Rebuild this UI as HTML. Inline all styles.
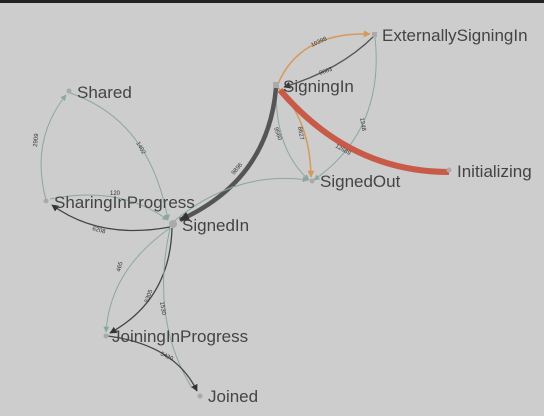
<!DOCTYPE html>
<html><head><meta charset="utf-8"><style>
html,body{margin:0;padding:0;background:#cdcdcd;}
svg{display:block;}
text{font-family:"Liberation Sans",sans-serif;}
</style></head><body>
<svg width="544" height="416" viewBox="0 0 544 416" xmlns="http://www.w3.org/2000/svg">
<defs>
<marker id="ad" viewBox="0 0 10 10" refX="9" refY="5" markerWidth="7" markerHeight="7" markerUnits="userSpaceOnUse" orient="auto"><path d="M0,0L10,5L0,10z" fill="#333"/></marker>
<marker id="adb" viewBox="0 0 10 10" refX="9" refY="5" markerWidth="10" markerHeight="10" markerUnits="userSpaceOnUse" orient="auto"><path d="M0,0L10,5L0,10z" fill="#333"/></marker>
<marker id="at" viewBox="0 0 10 10" refX="9" refY="5" markerWidth="6" markerHeight="6" markerUnits="userSpaceOnUse" orient="auto"><path d="M0,0L10,5L0,10z" fill="#8aa8a0"/></marker>
<marker id="ao" viewBox="0 0 10 10" refX="9" refY="5" markerWidth="7" markerHeight="7" markerUnits="userSpaceOnUse" orient="auto"><path d="M0,0L10,5L0,10z" fill="#d49a5a"/></marker>
</defs>
<rect width="544" height="416" fill="#cdcdcd"/>
<rect width="544" height="3" fill="#222"/>
<g fill="none">
<path d="M278,84 Q300,32 370,34" stroke="#d49a5a" stroke-width="1.5" marker-end="url(#ao)"/>
<path d="M374,36 Q340,70 284,87" stroke="#555" stroke-width="1.3" marker-end="url(#ad)"/>
<path d="M375,37 Q385,130 314,180" stroke="#8aa8a0" stroke-width="1" marker-end="url(#at)"/>
<path d="M278,88 Q310,120 311,177" stroke="#d49a5a" stroke-width="1.5" marker-end="url(#ao)"/>
<path d="M276,88 Q275,150 309,180" stroke="#8aa8a0" stroke-width="1" marker-end="url(#at)"/>
<path d="M449,172 Q350,172 280,90" stroke="#c85a48" stroke-width="6"/>
<path d="M276,88 Q268,180 180,220" stroke="#555" stroke-width="4.5" marker-end="url(#adb)"/>
<path d="M173,222 Q235,170 308,180" stroke="#8aa8a0" stroke-width="1" marker-end="url(#at)"/>
<path d="M46,200 Q30,140 66,95" stroke="#8aa8a0" stroke-width="1" marker-end="url(#at)"/>
<path d="M70,93 Q150,120 168,220" stroke="#8aa8a0" stroke-width="1" marker-end="url(#at)"/>
<path d="M50,199 Q120,185 168,220" stroke="#8aa8a0" stroke-width="1" marker-end="url(#at)"/>
<path d="M170,227 Q100,240 52,205" stroke="#444" stroke-width="1.3" marker-end="url(#ad)"/>
<path d="M170,228 Q110,270 106,332" stroke="#8aa8a0" stroke-width="1" marker-end="url(#at)"/>
<path d="M172,228 Q170,300 110,333" stroke="#444" stroke-width="1.3" marker-end="url(#ad)"/>
<path d="M170,228 Q150,320 192,388" stroke="#8aa8a0" stroke-width="1"/>
<path d="M108,336 Q175,345 197,391" stroke="#444" stroke-width="1.3" marker-end="url(#ad)"/>
</g>
<g fill="#aaa">
<rect x="372" y="32" width="5" height="5"/><rect x="273" y="82" width="6" height="6"/>
<circle cx="69" cy="91" r="2.5"/><circle cx="449" cy="170" r="2.5"/><circle cx="312" cy="181" r="2.5"/>
<circle cx="46" cy="201" r="2.5"/><circle cx="173" cy="224" r="4"/><circle cx="106" cy="336" r="2.5"/><circle cx="200" cy="396" r="2.5"/>
</g>
<g font-size="17" fill="#444">
<text x="382" y="41">ExternallySigningIn</text>
<text x="283" y="92">SigningIn</text>
<text x="77" y="98">Shared</text>
<text x="457" y="177">Initializing</text>
<text x="320" y="187">SignedOut</text>
<text x="54" y="208">SharingInProgress</text>
<text x="182" y="231">SignedIn</text>
<text x="112" y="342">JoiningInProgress</text>
<text x="208" y="402">Joined</text>
</g>
<g font-size="6" fill="#333">
<text x="312" y="47" transform="rotate(-25 312 47)">10398</text>
<text x="320" y="75" transform="rotate(-20 320 75)">9663</text>
<text x="360" y="118" transform="rotate(80 360 118)">1248</text>
<text x="298" y="127" transform="rotate(80 298 127)">8627</text>
<text x="274" y="128" transform="rotate(70 274 128)">9560</text>
<text x="335" y="147" transform="rotate(30 335 147)">12689</text>
<text x="234" y="175" transform="rotate(-50 234 175)">9896</text>
<text x="37" y="147" transform="rotate(-85 37 147)">2909</text>
<text x="136" y="143" transform="rotate(60 136 143)">1402</text>
<text x="110" y="195">120</text>
<text x="92" y="230" transform="rotate(15 92 230)">6208</text>
<text x="120" y="272" transform="rotate(-75 120 272)">465</text>
<text x="148" y="303" transform="rotate(-70 148 303)">5305</text>
<text x="160" y="302" transform="rotate(80 160 302)">1530</text>
<text x="160" y="355" transform="rotate(25 160 355)">5420</text>
</g>
</svg>
</body></html>
